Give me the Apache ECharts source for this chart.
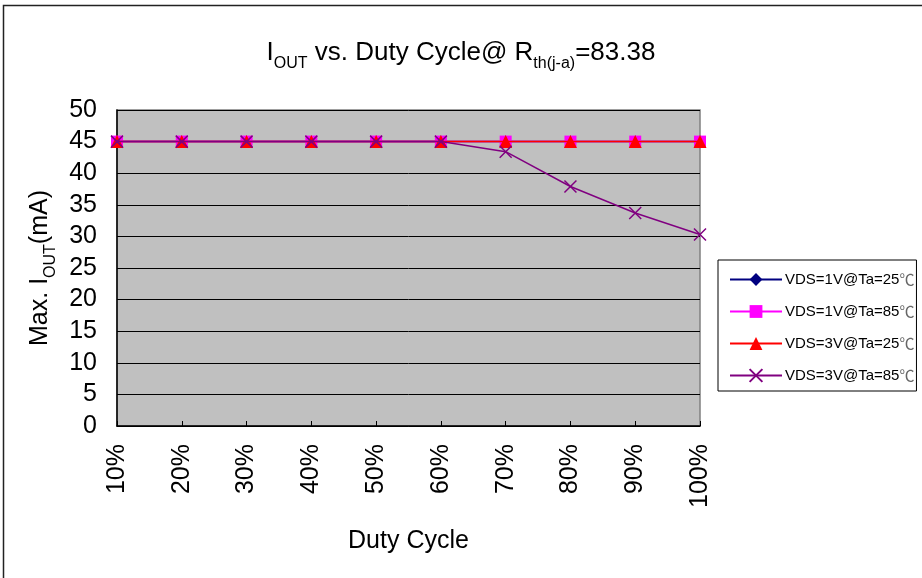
<!DOCTYPE html>
<html><head><meta charset="utf-8">
<script src="https://cdn.jsdelivr.net/npm/echarts@6/dist/echarts.min.js"></script>
<style>html,body{margin:0;padding:0;background:#fff}#c{width:922px;height:578px}</style>
</head><body><div id="c"></div>
<script>
const categories = ['10%','20%','30%','40%','50%','60%','70%','80%','90%','100%'];
const vds1_25 = [45,45,45,45,45,45,45,45,45,45];
const vds1_85 = [45,45,45,45,45,45,45,45,45,45];
const vds3_25 = [45,45,45,45,45,45,45,45,45,45];
const vds3_85 = [45,45,45,45,45,45,43.4,37.9,33.7,30.3];
const seriesNames = ['VDS=1V@Ta=25℃','VDS=1V@Ta=85℃','VDS=3V@Ta=25℃','VDS=3V@Ta=85℃'];
const yTicks = {min:0, max:50, interval:5};

const F = 'Arial, "Liberation Sans", sans-serif';
const chart = echarts.init(document.getElementById('c'));
const xPath = 'path://M0,0L10,10M10,0L0,10';
chart.setOption({
  animation:false,
  backgroundColor:'#fff',
  graphic:[{type:'rect', shape:{x:3.5,y:5.5,width:1000,height:1000}, style:{fill:'none',stroke:'#222',lineWidth:1.5}, z:-1}],
  title:{
    text:'{a|I}{s|OUT}{a| vs. Duty Cycle@ R}{s|th(j-a)}{a|=83.38}',
    left:'center', top:40, padding:0,
    textStyle:{fontWeight:'normal', rich:{
      a:{fontFamily:F,fontSize:26,fontWeight:'normal',color:'#000',lineHeight:28,verticalAlign:'top'},
      s:{fontFamily:F,fontSize:16,fontWeight:'normal',color:'#000',lineHeight:16,verticalAlign:'bottom',padding:[0,0,-4,0]}
    }}
  },
  legend:{
    orient:'vertical', left:718, top:260,
    borderColor:'#000', borderWidth:1, padding:[12,2,8,11],
    itemWidth:52, itemHeight:16, itemGap:17,
    formatter:function(n){return '{a|'+n.replace('℃','')+'}{c|℃}';},
    textStyle:{fontFamily:F,fontSize:15,color:'#000',padding:[0,0,0,-2],
      rich:{a:{fontFamily:F,fontSize:15,color:'#000'},c:{fontFamily:'"Noto Sans CJK SC"',fontSize:15,color:'#666'}}},
    data:seriesNames
  },
  grid:{left:117, top:110, right:222, bottom:152, show:true, backgroundColor:'#c0c0c0', borderColor:'#808080', borderWidth:1.5},
  xAxis:{
    type:'category', data:categories, boundaryGap:false,
    axisLine:{lineStyle:{color:'#000',width:1.5}},
    axisTick:{inside:true,length:5,lineStyle:{color:'#000'}},
    axisLabel:{rotate:90, fontFamily:F, fontSize:25, color:'#000', margin:18},
    name:'Duty Cycle', nameLocation:'middle', nameGap:103,
    nameTextStyle:{fontFamily:F,fontSize:25,color:'#000'}
  },
  yAxis:{
    type:'value', min:yTicks.min, max:yTicks.max, interval:yTicks.interval,
    axisLine:{show:true,lineStyle:{color:'#000',width:1.5}},
    axisTick:{show:false},
    splitLine:{lineStyle:{color:'#000',width:1}},
    axisLabel:{fontFamily:F,fontSize:25,color:'#000',margin:20},
    name:'{a|Max. I}{s|OUT}{a|(mA)}', nameLocation:'middle', nameGap:62,
    nameTextStyle:{rich:{
      a:{fontFamily:F,fontSize:25,color:'#000',lineHeight:27,verticalAlign:'top'},
      s:{fontFamily:F,fontSize:16,color:'#000',lineHeight:16,verticalAlign:'bottom',padding:[0,0,-4,0]}
    }}
  },
  series:[
    {name:seriesNames[0], type:'line', data:vds1_25, symbol:'diamond', symbolSize:12, itemStyle:{color:'#000080'}, lineStyle:{color:'#000080',width:1.5}, z:2},
    {name:seriesNames[1], type:'line', data:vds1_85, symbol:'rect', symbolSize:12, itemStyle:{color:'#ff00ff'}, lineStyle:{color:'#ff00ff',width:1.5}, z:3},
    {name:seriesNames[2], type:'line', data:vds3_25, symbol:'triangle', symbolSize:13, itemStyle:{color:'#ff0000'}, lineStyle:{color:'#ff0000',width:1.5}, z:4},
    {name:seriesNames[3], type:'line', data:vds3_85, symbol:xPath, symbolSize:12, itemStyle:{color:'#800080',borderColor:'#800080',borderWidth:1.5}, lineStyle:{color:'#800080',width:1.5}, z:5}
  ]
});
</script></body></html>
